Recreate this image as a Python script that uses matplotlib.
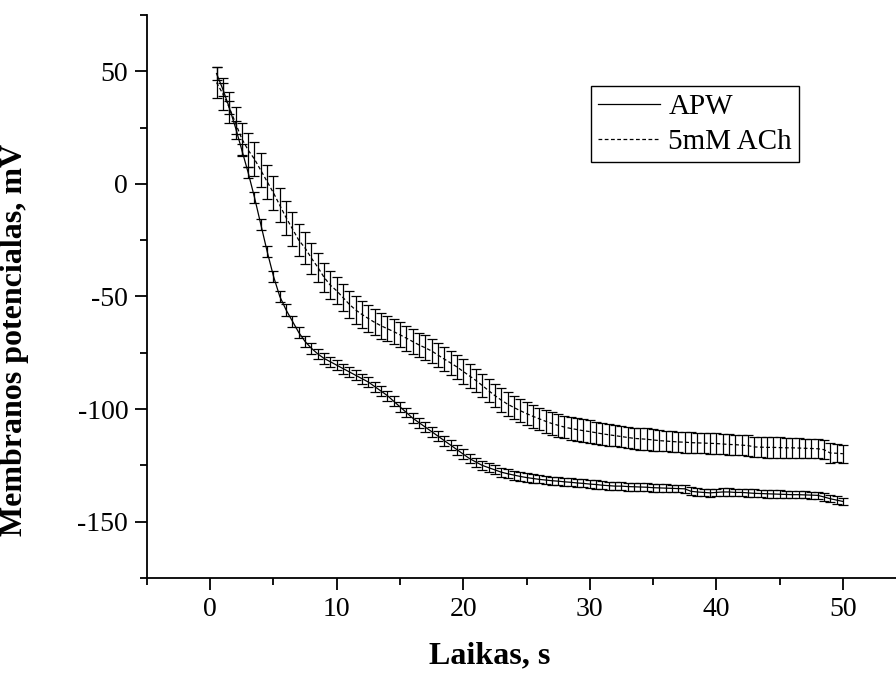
import numpy as np
from matplotlib import pyplot as plt
from matplotlib.ticker import MultipleLocator

plt.rcParams['font.family'] = ['Liberation Serif', 'DejaVu Serif']
plt.rcParams['axes.unicode_minus'] = False

# laikas, s (kas 0.5 s)
laikas = np.arange(1, 101) * 0.5

apw = [49, 42, 34, 25, 15, 5, -6, -18, -30, -41,
       -50, -56, -61, -66, -70, -73, -75.5, -77.5, -79, -80.5,
       -82, -83.5, -85, -86.5, -88, -90, -92, -94, -96.5, -99,
       -101.5, -104, -106, -108, -110, -112, -114, -116, -118, -120,
       -122, -123.5, -125, -126, -127, -128, -128.7, -129.3, -129.9, -130.4,
       -130.8, -131.2, -131.5, -131.8, -132, -132.3, -132.5, -132.8, -133, -133.3,
       -133.5, -133.8, -134, -134.2, -134.2, -134.4, -134.5, -134.6, -134.7, -134.9,
       -135, -135.1, -135.2, -135.3, -135.4, -136.5, -136.8, -137, -137.2, -137,
       -136.8, -136.8, -137, -137, -137.2, -137.4, -137.5, -137.6, -137.7, -137.8,
       -137.9, -138, -138, -138.1, -138.2, -138.3, -139, -139.8, -140.4, -141]

apw_err = [3.0, 3.0, 2.8, 2.8, 2.6, 2.6, 2.5, 2.5, 2.5, 2.5,
           2.5, 2.5, 2.5, 2.4, 2.4, 2.4, 2.3, 2.3, 2.3, 2.2,
           2.2, 2.2, 2.2, 2.2, 2.2, 2.2, 2.2, 2.2, 2.2, 2.2,
           2.2, 2.2, 2.2, 2.2, 2.2, 2.2, 2.2, 2.2, 2.2, 2.2,
           2.0, 2.0, 2.0, 2.0, 2.0, 2.0, 2.0, 2.0, 2.0, 2.0,
           1.8, 1.8, 1.8, 1.8, 1.8, 1.8, 1.8, 1.8, 1.8, 1.8,
           1.8, 1.8, 1.8, 1.8, 1.8, 1.8, 1.8, 1.8, 1.8, 1.8,
           1.7, 1.7, 1.7, 1.7, 1.7, 1.7, 1.7, 1.7, 1.7, 1.7,
           1.7, 1.7, 1.7, 1.7, 1.7, 1.7, 1.7, 1.7, 1.7, 1.7,
           1.6, 1.6, 1.6, 1.6, 1.6, 1.6, 1.6, 1.6, 1.6, 1.6]

ach = [45, 40, 34, 27, 20, 15, 11, 6, 1, -4,
       -9.5, -15, -20, -25, -28.5, -33, -37, -41.5, -45, -47.5,
       -50.5, -53.5, -56, -58, -59.8, -61.5, -63, -64.3, -65.6, -67,
       -68.5, -70, -71.5, -72.8, -74.2, -76, -77.8, -79.5, -81.3, -83.3,
       -85.3, -87.3, -89.5, -91.8, -94, -96, -97.8, -99.3, -100.7, -102,
       -103.2, -104.3, -105.4, -106.4, -107.2, -108, -108.6, -109.1, -109.6, -110,
       -110.5, -111, -111.4, -111.8, -112.2, -112.6, -113, -113.2, -113.4, -113.7,
       -114, -114.2, -114.4, -114.6, -114.7, -114.9, -115, -115.1, -115.2, -115.3,
       -115.5, -115.7, -115.8, -116, -116.2, -116.8, -116.9, -117, -117, -117.1,
       -117.2, -117.2, -117.3, -117.4, -117.5, -117.6, -118, -119.5, -119.6, -119.8]

ach_err = [7.0, 7.0, 7.0, 7.0, 7.0, 7.5, 7.5, 7.5, 7.5, 7.5,
           7.5, 7.5, 7.5, 7.0, 7.0, 6.8, 6.5, 6.5, 6.2, 6.0,
           6.0, 6.0, 6.0, 6.0, 5.8, 5.8, 5.8, 5.5, 5.5, 5.5,
           5.5, 5.5, 5.5, 5.5, 5.5, 5.5, 5.5, 5.5, 5.5, 5.5,
           5.2, 5.2, 5.2, 5.2, 5.2, 5.2, 5.2, 5.2, 5.2, 5.2,
           5.0, 5.0, 5.0, 5.0, 5.0, 5.0, 5.0, 5.0, 5.0, 5.0,
           4.8, 4.8, 4.8, 4.8, 4.8, 4.8, 4.8, 4.8, 4.8, 4.8,
           4.6, 4.6, 4.6, 4.6, 4.6, 4.6, 4.6, 4.6, 4.6, 4.6,
           4.5, 4.5, 4.5, 4.5, 4.5, 4.5, 4.5, 4.5, 4.5, 4.5,
           4.3, 4.3, 4.3, 4.3, 4.3, 4.3, 4.3, 4.3, 4.0, 4.0]

fig = plt.figure(figsize=(8.96, 6.78), dpi=100)
ax = fig.add_axes([0.164, 0.1475, 0.836, 0.8304])

ax.errorbar(laikas, ach, yerr=ach_err, fmt='none', ecolor='black',
            elinewidth=0.9, capsize=3.5, capthick=0.9)
ax.errorbar(laikas, apw, yerr=apw_err, fmt='none', ecolor='black',
            elinewidth=0.9, capsize=3.5, capthick=0.9)
ax.plot(laikas, apw, color='black', lw=0.9, label='APW')
ax.plot(laikas, ach, color='black', lw=0.9, ls=(0, (3, 2)), label='5mM ACh')

ax.set_xlim(-5, 54.2)
ax.set_ylim(-175, 75)
ax.xaxis.set_major_locator(MultipleLocator(10))
ax.xaxis.set_minor_locator(MultipleLocator(5))
ax.yaxis.set_major_locator(MultipleLocator(50))
ax.yaxis.set_minor_locator(MultipleLocator(25))

for s in ['top', 'right']:
    ax.spines[s].set_visible(False)
for s in ['left', 'bottom']:
    ax.spines[s].set_linewidth(1.3)

ax.tick_params(which='major', direction='out', length=8.5, width=1.3,
               labelsize=20, pad=5)
ax.tick_params(which='minor', direction='out', length=5, width=1.3)

ax.set_xlabel('Laikas, s', fontsize=23, fontweight='bold')
ax.set_ylabel('Membranos potencialas, mV', fontsize=23, fontweight='bold')
ax.xaxis.set_label_coords(0.458, -0.112)
ax.yaxis.set_label_coords(-0.158, 0.423)

leg = ax.legend(loc='upper left', bbox_to_anchor=(0.6596, 0.873),
                bbox_transform=fig.transFigure, fontsize=21,
                frameon=True, fancybox=False, framealpha=1,
                edgecolor='black', handlelength=2.1, handletextpad=0.3,
                borderpad=0.25, labelspacing=0.3, borderaxespad=0)
leg.get_frame().set_linewidth(1.0)

plt.savefig('out.png', dpi=100)
plt.close()
